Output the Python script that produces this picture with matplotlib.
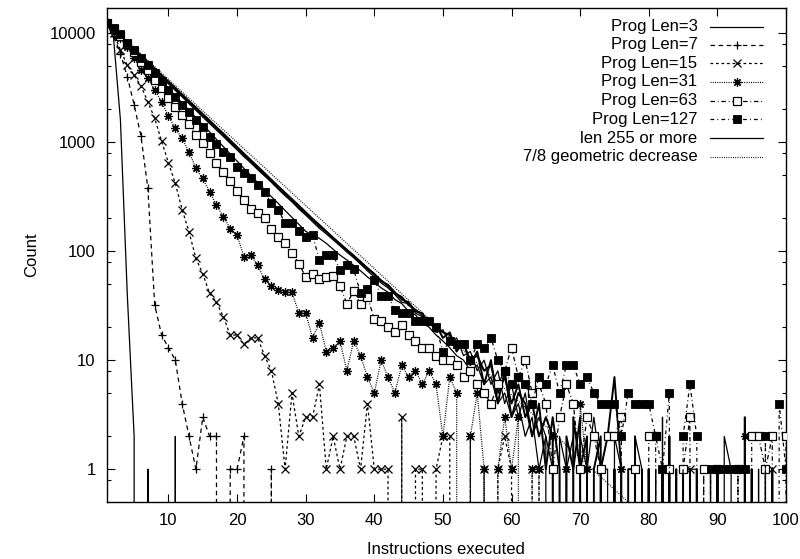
import numpy as np
import matplotlib
matplotlib.use("Agg")
import matplotlib.pyplot as plt
from matplotlib.lines import Line2D

plt.rcParams['font.family'] = ['Liberation Sans', 'DejaVu Sans']

# ---------------- data ----------------
instructions = list(range(1, 101))

len3 = [12500, 9000, 1600, 40, 2, 0, 1, 0, 0, 0, 2] + [0] * 89

len7 = [12500, 9500, 6500, 4000, 2200, 1130, 376, 32, 17, 13,
        10, 4, 2, 1, 3, 2, 2, 0, 1, 1,
        2, 0, 0, 0, 1] + [0] * 75

len15 = [12500, 10000, 7000, 5080, 4100, 3270, 2340, 1650, 1020, 646,
         418, 240, 150, 86, 62, 41, 34, 25, 17, 17,
         14, 16, 16, 11, 8, 4, 1, 5, 2, 3,
         3, 6, 1, 2, 1, 2, 2, 1, 4, 1,
         1, 1, 0, 3, 0, 1, 1, 0, 1, 2,
         2, 0, 0, 2, 0, 1, 0, 1, 2, 1,
         0, 0, 1, 1, 0, 0, 0, 0, 0, 0,
         0, 0, 0, 0, 0, 0, 0, 0, 0, 0,
         0, 0, 0, 0, 0, 1, 0, 0, 0, 0,
         0, 0, 0, 0, 0, 0, 0, 1, 0, 0]

len31 = [12500, 10700, 9000, 7400, 5900, 4580, 3840, 3000, 2340, 1730,
         1336, 1080, 815, 574, 465, 350, 264, 207, 161, 140,
         89, 92, 74, 55, 48, 44, 42, 42, 27, 27,
         16, 22, 12, 13, 15, 8, 15, 11, 7, 5,
         10, 7, 5, 9, 7, 8, 6, 8, 6, 2,
         7, 5, 0, 2, 5, 1, 0, 1, 3, 1,
         3, 0, 1, 1, 0, 2, 0, 1, 0, 4,
         1, 0, 1, 0, 0, 1, 0, 0, 0, 0,
         0, 0, 0, 0, 0, 0, 0, 0, 0, 0,
         0, 0, 0, 2, 0, 0, 0, 0, 0, 0]

len63 = [12500, 10800, 9400, 8000, 6700, 5460, 4580, 3700, 3110, 2520,
         2110, 1770, 1480, 1160, 973, 787, 638, 534, 441, 357,
         294, 246, 224, 200, 161, 134, 119, 97, 77, 58,
         62, 55, 58, 59, 48, 33, 43, 33, 38, 24,
         23, 20, 18, 21, 17, 15, 13, 13, 11, 10,
         10, 9, 7, 8, 6, 5, 4, 6, 8, 13,
         7, 10, 5, 6, 4, 1, 3, 6, 4, 1,
         3, 2, 1, 2, 2, 3, 0, 1, 0, 2,
         2, 0, 1, 0, 1, 3, 0, 1, 0, 1,
         0, 0, 1, 0, 2, 2, 1, 2, 0, 2]

len127 = [12500, 11040, 9800, 8050, 6990, 5870, 5080, 4270, 3650, 3000,
          2570, 2180, 1900, 1590, 1365, 1120, 959, 815, 724, 593,
          523, 465, 403, 350, 274, 241, 180, 180, 153, 134,
          140, 83, 92, 92, 67, 74, 68, 41, 45, 54,
          39, 39, 29, 27, 27, 23, 23, 23, 20, 12,
          15, 14, 14, 10, 14, 13, 16, 10, 8, 6,
          7, 6, 4, 7, 6, 9, 5, 9, 9, 6,
          7, 5, 4, 4, 4, 2, 5, 4, 4, 4,
          2, 1, 5, 0, 2, 6, 2, 0, 1, 1,
          1, 1, 1, 1, 0, 0, 2, 0, 4, 1]

# "len 255 or more": several runs drawn in the same style
long_a = [12500, 10720, 9280, 8120, 7030, 6150, 5330, 4660, 4040, 3530,
          3060, 2680, 2320, 2030, 1750, 1535, 1330, 1160, 1006, 880,
          761, 666, 576, 505, 441, 382, 334, 292, 252, 221,
          194, 169, 150, 131, 116, 102, 90, 78, 69, 61,
          54, 48, 41, 38, 32, 29, 26, 22, 20, 18,
          17, 13, 14, 10, 11, 8, 9, 5, 7, 4,
          6, 3, 4, 2, 3, 2, 0, 2, 1, 3,
          0, 1, 2, 0, 1, 0, 1, 1, 0, 1,
          0, 1, 0, 1, 0, 0, 1, 0, 0, 1,
          0, 0, 0, 0, 1, 0, 0, 0, 0, 0]
long_b = [12500, 10600, 9150, 7950, 6880, 6000, 5200, 4540, 3930, 3430,
          2980, 2600, 2250, 1960, 1700, 1480, 1290, 1125, 975, 850,
          735, 645, 560, 490, 428, 370, 322, 283, 244, 214,
          186, 162, 144, 127, 112, 98, 87, 76, 66, 58,
          51, 46, 40, 34, 33, 27, 25, 23, 18, 19,
          14, 16, 11, 12, 8, 10, 6, 8, 4, 6,
          3, 5, 2, 3, 2, 0, 2, 1, 2, 0,
          1, 3, 1, 0, 2, 1, 0, 2, 1, 0,
          1, 0, 1, 0, 0, 1, 1, 0, 0, 0,
          2, 1, 0, 0, 0, 0, 1, 0, 0, 0]
long_c = [12500, 10800, 9400, 8200, 7150, 6250, 5420, 4730, 4120, 3600,
          3140, 2740, 2380, 2080, 1810, 1580, 1370, 1200, 1040, 905,
          785, 685, 598, 520, 452, 394, 343, 300, 262, 228,
          198, 174, 152, 133, 117, 103, 91, 80, 70, 62,
          53, 49, 42, 36, 34, 28, 27, 21, 21, 16,
          18, 12, 15, 9, 12, 6, 10, 4, 8, 3,
          5, 4, 2, 4, 1, 3, 1, 0, 3, 1,
          2, 0, 1, 2, 7, 1, 0, 2, 0, 1,
          0, 0, 2, 0, 1, 1, 0, 0, 0, 1,
          0, 0, 0, 3, 0, 0, 0, 1, 0, 0]
long_d = [12500, 10500, 9000, 7750, 6650, 5700, 4900, 4200, 3600, 3100,
          2660, 2280, 1960, 1680, 1440, 1240, 1060, 910, 780, 670,
          575, 495, 425, 366, 316, 274, 236, 204, 176, 152,
          140, 131, 118, 104, 92, 83, 74, 66, 58, 52,
          46, 42, 36, 33, 28, 26, 22, 20, 17, 15,
          13, 11, 10, 8, 9, 6, 7, 4, 5, 3,
          4, 2, 3, 1, 2, 1, 0, 1, 0, 2,
          1, 0, 1, 1, 0, 1, 0, 0, 1, 0,
          0, 3, 0, 0, 1, 0, 0, 0, 1, 0,
          0, 0, 0, 0, 0, 1, 0, 0, 0, 0]
long_runs = [long_a, long_b, long_c, long_d]

# 7/8 geometric decrease: a straight line on the log axis (end points)
geo_x = [1, 100]
geo_y = [12500, 0.0233]

x_ticks = [10, 20, 30, 40, 50, 60, 70, 80, 90, 100]
y_ticks = [1, 10, 100, 1000, 10000]
y_tick_labels = ['1', '10', '100', '1000', '10000']

labels = ['Prog Len=3', 'Prog Len=7', 'Prog Len=15', 'Prog Len=31',
          'Prog Len=63', 'Prog Len=127', 'len 255 or more',
          '7/8 geometric decrease']

# ---------------- figure ----------------
W, H = 800, 559
fig = plt.figure(figsize=(W / 100, H / 100), dpi=100)
left_px, right_px, top_px, bot_px = 106.7, 786.0, 8.0, 502.0
ax = fig.add_axes([left_px / W, 1 - bot_px / H,
                   (right_px - left_px) / W, (bot_px - top_px) / H])
ax.set_yscale('log')

asterisk = (8, 2, 0)
styles = [
    dict(ls='-', lw=0.9, marker=None),
    dict(ls=(0, (3.6, 2.9)), lw=0.9, marker='+', ms=5.5, mew=0.9),
    dict(ls=(0, (2.2, 2.2)), lw=0.9, marker='x', ms=5.3, mew=0.9),
    dict(ls=(0, (0.8, 1.0)), lw=0.9, marker=asterisk, ms=6.0, mew=0.9),
    dict(ls=(0, (3.6, 2.2, 0.7, 2.2)), lw=0.9, marker='s', ms=5.2, mew=0.9,
         mfc='white'),
    dict(ls=(0, (3.0, 2.5, 0.7, 2.5)), lw=0.9, marker='s', ms=5.6, mew=0.6,
         mfc='black'),
]
series = [len3, len7, len15, len31, len63, len127]

# long runs and geometric line first (under the markers)
for i, run in enumerate(long_runs):
    ax.plot(instructions, run, color='black', ls='-',
            lw=1.4 if i in (0, 2) else 0.9, zorder=2)
ax.plot(geo_x, geo_y, color='black', ls=(0, (0.7, 1.1)), lw=0.9, zorder=2)

for vals, st in zip(series, styles):
    st = dict(st)
    ax.plot(instructions, vals, color='black', mec='black', zorder=3, **st)

ax.set_xlim(1, 100)
ax.set_ylim(0.5, 17000)

ax.set_xticks(x_ticks)
ax.set_xticklabels([str(t) for t in x_ticks])
ax.set_yticks(y_ticks)
ax.set_yticklabels(y_tick_labels)
minor = [m * 10 ** k for k in range(-1, 5) for m in (2, 5, 8)]
ax.yaxis.set_minor_locator(matplotlib.ticker.FixedLocator(minor))
ax.yaxis.set_minor_formatter(matplotlib.ticker.NullFormatter())
ax.xaxis.set_minor_locator(matplotlib.ticker.NullLocator())

ax.tick_params(which='both', direction='in', top=True, right=True,
               labelsize=12, width=0.8, color='black', pad=8)
ax.tick_params(which='major', length=6)
ax.tick_params(which='minor', length=3)
for sp in ax.spines.values():
    sp.set_linewidth(1.0)

ax.set_xlabel('Instructions executed', fontsize=12, labelpad=10)
ax.set_ylabel('Count', fontsize=12, labelpad=7)

# ---------------- gnuplot-style key ----------------
row_y = [26.7, 45.0, 63.3, 81.7, 100.7, 119.3, 138.3, 156.7]
text_right = 697.5
s0, s1, smid = 710.0, 763.0, 736.5
key_styles = styles + [dict(ls='-', lw=0.9, marker=None),
                       dict(ls=(0, (0.7, 1.1)), lw=0.9, marker=None)]
for lab, yy, st in zip(labels, row_y, key_styles):
    fy = 1 - yy / H
    fig.text(text_right / W, fy, lab, ha='right', va='center', fontsize=12)
    st = dict(st)
    mk = st.pop('marker', None)
    ms = st.pop('ms', None)
    mew = st.pop('mew', None)
    mfc = st.pop('mfc', None)
    fig.add_artist(Line2D([s0 / W, s1 / W], [fy, fy], color='black',
                          transform=fig.transFigure, **st))
    if mk is not None:
        fig.add_artist(Line2D([smid / W], [fy], color='black', ls='none',
                              marker=mk, ms=ms, mew=mew,
                              mfc=mfc if mfc else 'none', mec='black',
                              transform=fig.transFigure))

fig.savefig('out.png', dpi=100)
